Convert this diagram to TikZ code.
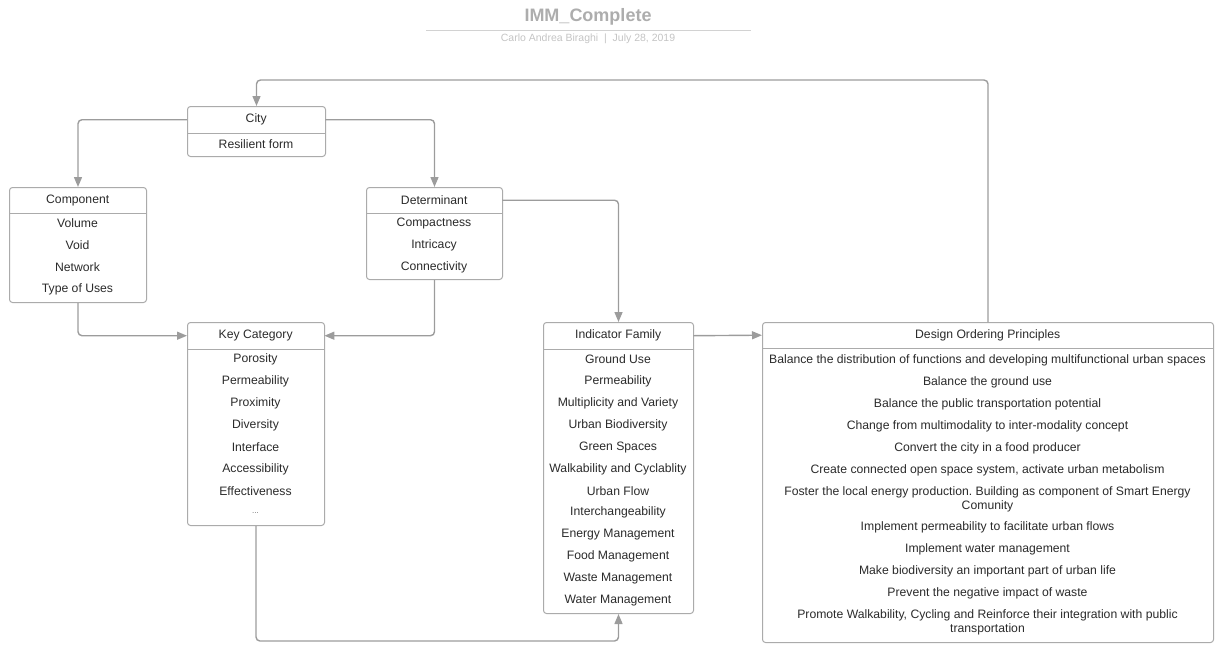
\documentclass[tikz,border=0pt]{standalone}
\usepackage{fontspec}
\setmainfont{Liberation Sans}
\usetikzlibrary{arrows.meta}
\frenchspacing
\definecolor{edge}{HTML}{9C9C9C}
\definecolor{frame}{HTML}{ABABAB}
\definecolor{ink}{HTML}{2B2B2B}
\definecolor{titlegray}{HTML}{ADADAD}
\definecolor{subgray}{HTML}{C4C4C4}
\definecolor{rulegray}{HTML}{D2D2D2}
\begin{document}
\begin{tikzpicture}[x=1pt,y=-1pt,
  box/.style={draw=frame, line width=1pt, rounded corners=3pt, fill=white,
    inner sep=0pt, anchor=north west},
  head/.style={inner sep=0pt, text=ink, anchor=north west,
    font=\fontsize{12.2}{14}\selectfont},
  item/.style={inner sep=0pt, text=ink, align=center,
    font=\fontsize{12.2}{14}\selectfont},
  divider/.style={draw=frame, line width=1pt},
  link/.style={draw=edge, line width=1.4pt, rounded corners=4pt,
    -{Triangle[length=10pt,width=8pt]}}]

\useasboundingbox (0,0) rectangle (1215,665);

% title block
\node[inner sep=0pt, text=titlegray, font=\bfseries\fontsize{18}{21}\selectfont] (title) at (588,17) {IMM\_Complete};
\draw[rulegray, line width=1pt] (426,30) -- (751,30);
\node[inner sep=0pt, text=subgray, font=\fontsize{10.5}{12}\selectfont] (subtitle) at (588,38.5) {Carlo Andrea Biraghi~~|~~July 28, 2019};

% City
\node[box, minimum width=138pt, minimum height=50pt] (city) at (187,106) {};
\node[head, minimum width=138pt, minimum height=27pt] (cityH) at (187,106) {City};
\draw[divider] (cityH.south west) -- (cityH.south east);
\node[item] (city1) at (256,144.5) {Resilient form};

% Component
\node[box, minimum width=137pt, minimum height=115pt] (comp) at (9,187) {};
\node[head, minimum width=137pt, minimum height=26pt] (compH) at (9,187) {Component};
\draw[divider] (compH.south west) -- (compH.south east);
\foreach \t [count=\i from 0] in {Volume,Void,Network,Type of Uses}
  \node[item] (comp\i) at (77.5,223.5+22*\i) {\t};

% Determinant
\node[box, minimum width=136pt, minimum height=92pt] (det) at (366,187) {};
\node[head, minimum width=136pt, minimum height=26pt] (detH) at (366,187) {Determinant};
\draw[divider] (detH.south west) -- (detH.south east);
\foreach \t [count=\i from 0] in {Compactness,Intricacy,Connectivity}
  \node[item] (det\i) at (434,223.5+22*\i) {\t};

% Key Category
\node[box, minimum width=137pt, minimum height=203pt] (key) at (187,322) {};
\node[head, minimum width=137pt, minimum height=27pt] (keyH) at (187,322) {Key Category};
\draw[divider] (keyH.south west) -- (keyH.south east);
\foreach \t [count=\i from 0] in {Porosity,Permeability,Proximity,Diversity,Interface,Accessibility,Effectiveness}
  \node[item] (key\i) at (255.5,359.5+22*\i) {\t};
\node[item, text=ink!70, font=\fontsize{8}{10}\selectfont] (keyMore) at (255.5,513) {...};

% Indicator Family
\node[box, minimum width=150pt, minimum height=291pt] (ind) at (543,322) {};
\node[head, minimum width=150pt, minimum height=27pt] (indH) at (543,322) {Indicator Family};
\draw[divider] (indH.south west) -- (indH.south east);
\foreach \t [count=\i from 0] in {Ground Use,Permeability,Multiplicity and Variety,Urban Biodiversity,Green Spaces,Walkability and Cyclablity,Urban Flow,Interchangeability,Energy Management,Food Management,Waste Management,Water Management}
  \node[item] (ind\i) at (618,359.5+21.9*\i) {\t};

% Design Ordering Principles
\node[box, minimum width=451pt, minimum height=320pt] (des) at (762,322) {};
\node[head, minimum width=451pt, minimum height=26pt] (desH) at (762,322) {Design Ordering Principles};
\draw[divider] (desH.south west) -- (desH.south east);
\node[item] (des0) at (987.5,360.5) {Balance the distribution of functions and developing multifunctional urban spaces};
\node[item] (des1) at (987.5,382.5) {Balance the ground use};
\node[item] (des2) at (987.5,404.5) {Balance the public transportation potential};
\node[item] (des3) at (987.5,426.5) {Change from multimodality to inter-modality concept};
\node[item] (des4) at (987.5,448.5) {Convert the city in a food producer};
\node[item] (des5) at (987.5,470.5) {Create connected open space system, activate urban metabolism};
\node[item] (des6) at (987.5,499.5) {Foster the local energy production. Building as component of Smart Energy\\Comunity};
\node[item] (des7) at (987.5,527.5) {Implement permeability to facilitate urban flows};
\node[item] (des8) at (987.5,549.5) {Implement water management};
\node[item] (des9) at (987.5,571.5) {Make biodiversity an important part of urban life};
\node[item] (des10) at (987.5,593.5) {Prevent the negative impact of waste};
\node[item] (des11) at (987.5,622.5) {Promote Walkability, Cycling and Reinforce their integration with public\\transportation};

% connectors
\draw[link] (cityH.west) -| (comp.north);
\draw[link] (cityH.east) -| (det.north);
\draw[link] (comp.south) |- (keyH.west);
\draw[link] (det.south) |- (keyH.east);
\draw[link] (detH.east) -| (ind.north);
\draw[link] (key.south) -- ++(0,115) -| (ind.south);
\draw[link] (indH.east) -- (desH.west);
\draw[link] (des.north) -- ++(0,-242) -| (city.north);
\end{tikzpicture}
\end{document}
